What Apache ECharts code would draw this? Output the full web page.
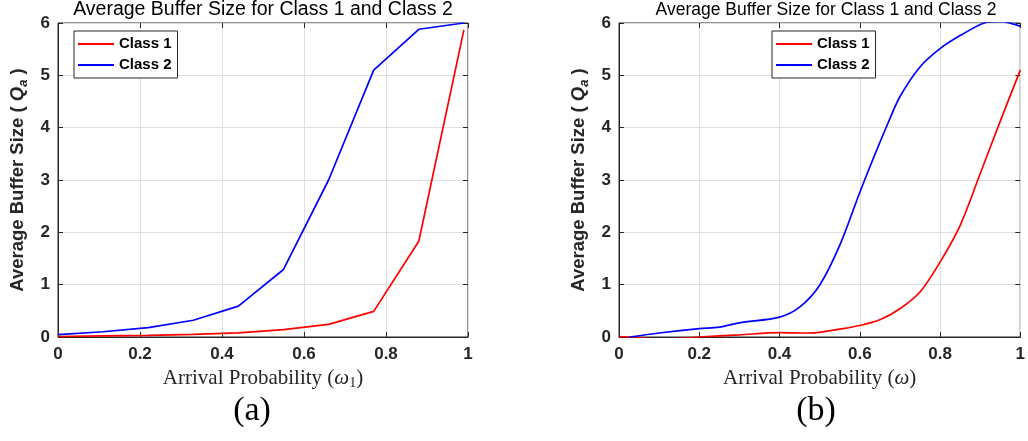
<!DOCTYPE html>
<html>
<head>
<meta charset="utf-8">
<script src="https://cdn.jsdelivr.net/npm/echarts@6/dist/echarts.min.js"></script>
<style>
  html, body { margin: 0; padding: 0; background: #fff; }
  #chart { width: 1028px; height: 441px; }
</style>
</head>
<body>
<div id="chart"></div>
<script>
// Panel (a): average buffer size vs arrival probability of class 1
const xA = [0, 0.11, 0.22, 0.33, 0.44, 0.55, 0.66, 0.77, 0.88, 0.99];
const class1A = [0.01, 0.02, 0.03, 0.05, 0.08, 0.14, 0.24, 0.49, 1.83, 5.87];
const class2A = [0.045, 0.1, 0.18, 0.32, 0.59, 1.29, 3.0, 5.1, 5.88, 6.0];

// Panel (b): average buffer size vs common arrival probability
const xB1 = [0, 0.03, 0.1, 0.2, 0.3, 0.4, 0.47, 0.5, 0.55, 0.6, 0.65, 0.7, 0.75, 0.8, 0.85, 0.9, 0.95, 1.0];
const class1B = [0.01, 0.0, -0.04, 0.0, 0.04, 0.085, 0.076, 0.09, 0.15, 0.22, 0.33, 0.54, 0.86, 1.43, 2.13, 3.12, 4.12, 5.1];
const xB2 = [0.027, 0.1, 0.2, 0.25, 0.3, 0.4, 0.45, 0.5, 0.55, 0.6, 0.632, 0.67, 0.7, 0.75, 0.8, 0.85, 0.91, 0.95, 1.0];
const class2B = [0.0, 0.076, 0.16, 0.19, 0.27, 0.38, 0.57, 0.99, 1.75, 2.76, 3.38, 4.08, 4.59, 5.16, 5.51, 5.76, 6.0, 6.03, 5.94];

const xTicks = [0, 0.2, 0.4, 0.6, 0.8, 1];
const yTicks = [0, 1, 2, 3, 4, 5, 6];
const seriesNames = ['Class 1', 'Class 2'];
const seriesColors = ['#ff0000', '#0000ff'];
const panelTitle = 'Average Buffer Size for Class 1 and Class 2';
const panelTags = ['(a)', '(b)'];

const pairs = (xs, ys) => xs.map((x, i) => [x, ys[i]]);

const AXIS = '#262626';
const SANS = 'Liberation Sans, Arial, Helvetica, sans-serif';
const SERIF = 'Liberation Serif, DejaVu Serif, serif';

const grids = [
  { left: 58, top: 23, width: 410, height: 314 },
  { left: 619, top: 23, width: 410, height: 314 }
];

function xAxisFor(gi, pos) {
  const main = pos === 'bottom';
  const name = gi === 0
    ? '{t|Arrival Probability (}{w|ω}{s|1}{t|)}'
    : '{t|Arrival Probability (}{w|ω}{t|)}';
  return {
    type: 'value', gridIndex: gi, position: pos,
    min: xTicks[0], max: xTicks[xTicks.length - 1], interval: 0.2,
    axisLine: { show: main, onZero: false, lineStyle: { color: AXIS, width: 1 } },
    axisTick: { show: true, inside: true, length: 5, lineStyle: { color: AXIS } },
    splitLine: { show: main, lineStyle: { color: '#dfdfdf', width: 1 } },
    axisLabel: {
      show: main, margin: 9, color: AXIS, fontWeight: 'bold', fontSize: 17, fontFamily: SANS,
      formatter: v => String(+v.toFixed(1))
    },
    name: main ? name : '',
    nameLocation: 'middle', nameGap: 25,
    nameTextStyle: {
      rich: {
        t: { fontFamily: SERIF, fontSize: 21, color: AXIS, lineHeight: 24 },
        w: { fontFamily: SERIF, fontSize: 21, fontStyle: 'italic', color: AXIS, lineHeight: 24 },
        s: { fontFamily: SERIF, fontSize: 14, color: AXIS, lineHeight: 24, verticalAlign: 'bottom' }
      }
    }
  };
}

function yAxisFor(gi, pos) {
  const main = pos === 'left';
  return {
    type: 'value', gridIndex: gi, position: pos,
    min: yTicks[0], max: yTicks[yTicks.length - 1], interval: 1,
    axisLine: { show: main, onZero: false, lineStyle: { color: AXIS, width: 1 } },
    axisTick: { show: true, inside: true, length: 5, lineStyle: { color: AXIS } },
    splitLine: { show: main, lineStyle: { color: '#dfdfdf', width: 1 } },
    axisLabel: { show: main, margin: 8, color: AXIS, fontWeight: 'bold', fontSize: 17, fontFamily: SANS },
    name: main ? '{b|Average Buffer Size ( }{q|Q}{s|a}{b| )}' : '',
    nameLocation: 'middle', nameGap: 28, nameRotate: 90,
    nameTextStyle: {
      rich: {
        b: { fontFamily: SANS, fontSize: 18.5, fontWeight: 'bold', color: AXIS, lineHeight: 22 },
        q: { fontFamily: SANS, fontSize: 18.5, fontWeight: 'bold', fontStyle: 'italic', color: AXIS, lineHeight: 22 },
        s: { fontFamily: SANS, fontSize: 13, fontWeight: 'bold', fontStyle: 'italic', color: AXIS, lineHeight: 24, verticalAlign: 'bottom' }
      }
    }
  };
}

function lineSeries(name, color, data, axisIdx, smooth) {
  return {
    name, type: 'line', data,
    xAxisIndex: axisIdx, yAxisIndex: axisIdx,
    showSymbol: false, symbol: 'none', smooth: smooth, clip: true,
    lineStyle: { color, width: 1.7 },
    itemStyle: { color },
    animation: false
  };
}

function legendFor(left) {
  return {
    data: seriesNames, orient: 'vertical', left, top: 31,
    icon: 'rect', itemWidth: 36, itemHeight: 2, itemGap: 5,
    padding: [5, 6, 5, 4],
    backgroundColor: '#fff', borderColor: AXIS, borderWidth: 1, borderRadius: 0,
    selectedMode: false,
    textStyle: { fontFamily: SANS, fontWeight: 'bold', fontSize: 15, color: '#000', lineHeight: 16 }
  };
}

function titleFor(text, x, y, size, family) {
  return {
    text, left: x, top: y, textAlign: 'center', padding: 0,
    textStyle: { fontFamily: family, fontWeight: 'normal', fontSize: size, color: '#000' }
  };
}

const option = {
  backgroundColor: '#fff',
  animation: false,
  title: [
    titleFor(panelTitle, 263, 0, 19.5, SANS),
    titleFor(panelTitle, 826, 1, 17.5, SANS),
    titleFor(panelTags[0], 252, 394, 34, SERIF),
    titleFor(panelTags[1], 816, 394, 34, SERIF)
  ],
  legend: [legendFor(74), legendFor(772)],
  grid: grids.map(g => Object.assign({ show: true, borderColor: AXIS, borderWidth: 1, backgroundColor: '#fff' }, g)),
  xAxis: [xAxisFor(0, 'bottom'), xAxisFor(1, 'bottom'), xAxisFor(0, 'top'), xAxisFor(1, 'top')],
  yAxis: [yAxisFor(0, 'left'), yAxisFor(1, 'left'), yAxisFor(0, 'right'), yAxisFor(1, 'right')],
  series: [
    lineSeries(seriesNames[0], seriesColors[0], pairs(xA, class1A), 0, false),
    lineSeries(seriesNames[1], seriesColors[1], pairs(xA, class2A), 0, false),
    lineSeries(seriesNames[0], seriesColors[0], pairs(xB1, class1B), 1, 0.3),
    lineSeries(seriesNames[1], seriesColors[1], pairs(xB2, class2B), 1, 0.3)
  ]
};

const chart = echarts.init(document.getElementById('chart'), null, { renderer: 'canvas' });
chart.setOption(option);
</script>
</body>
</html>
